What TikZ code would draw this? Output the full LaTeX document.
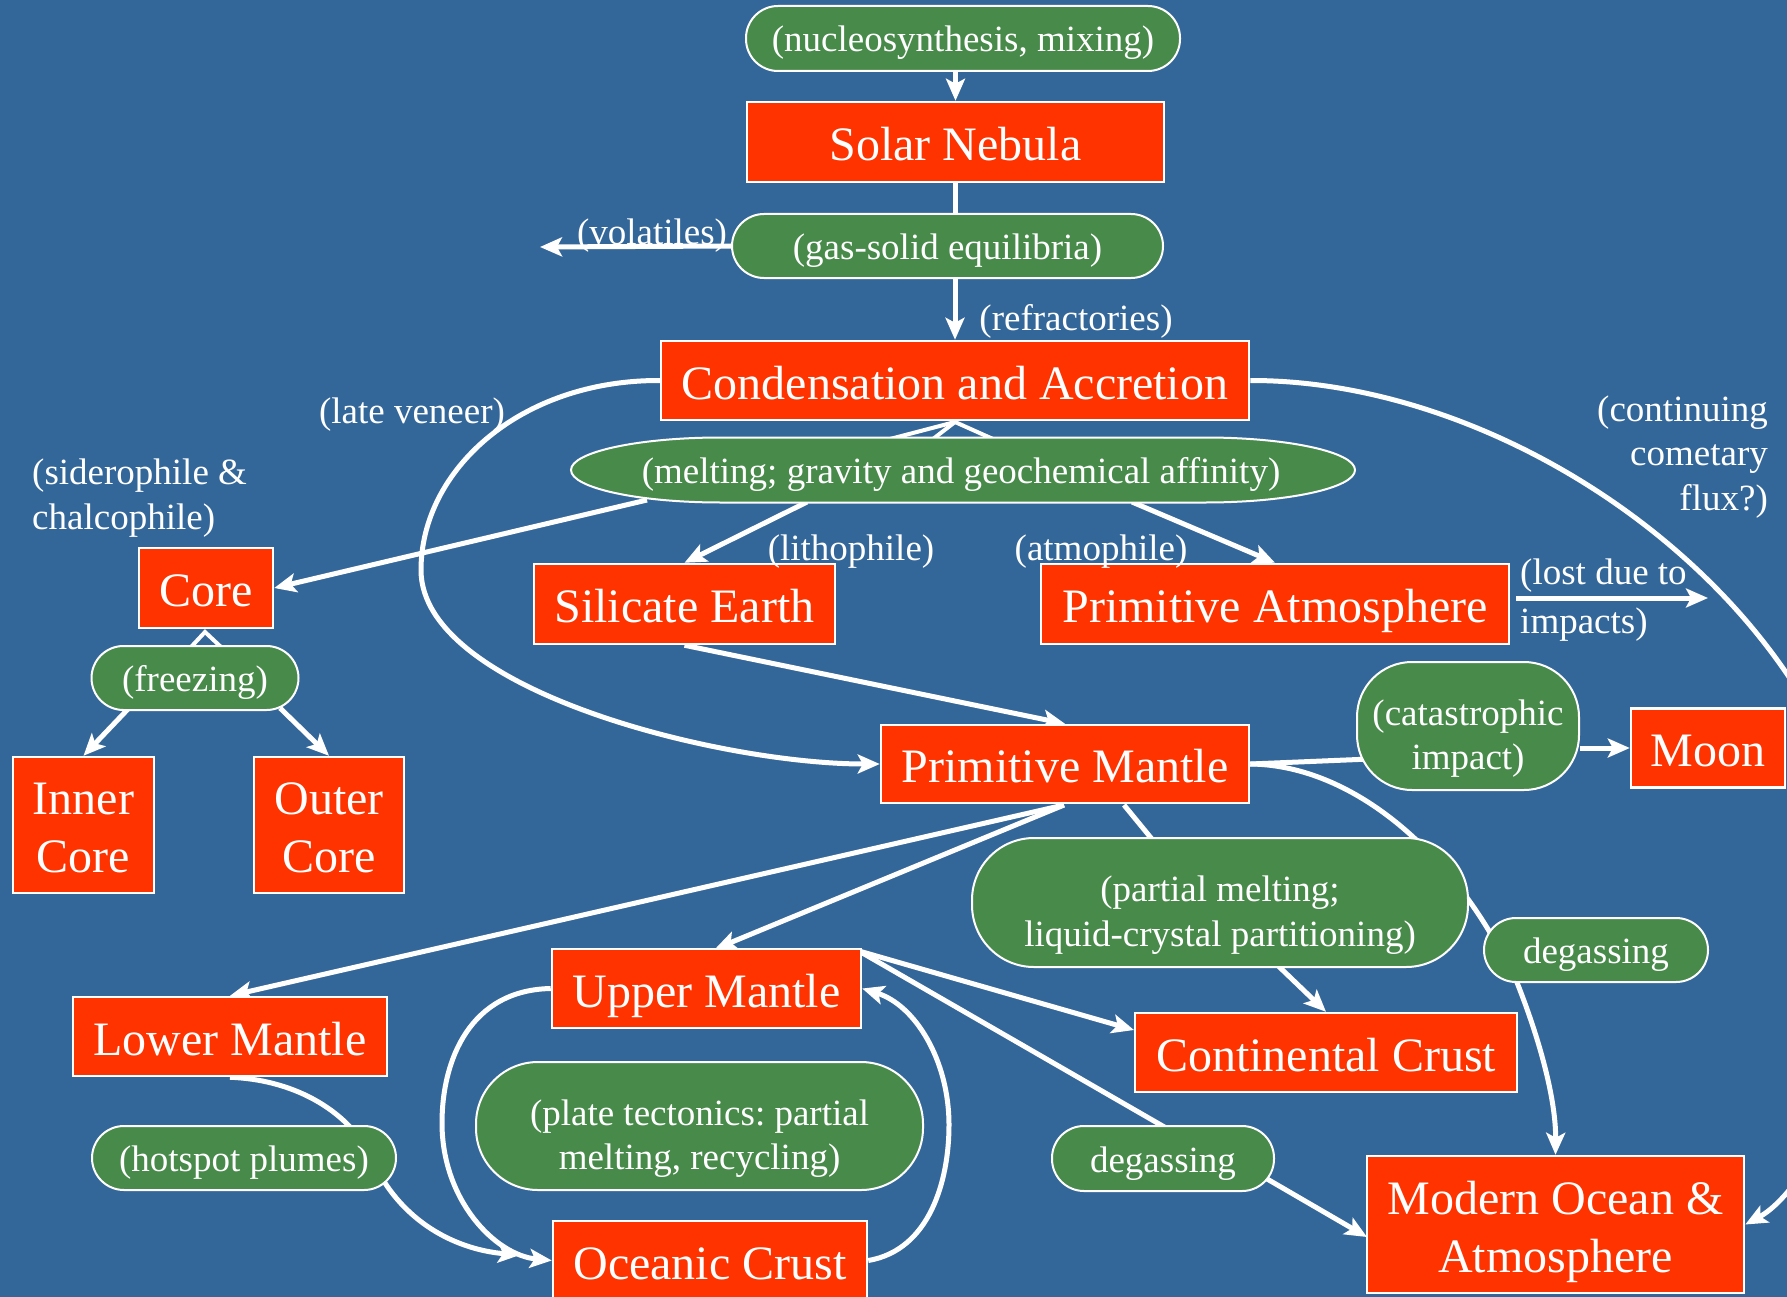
\documentclass[tikz,border=0pt]{standalone}
\usepackage{fontspec}
\setmainfont{Liberation Serif}
\frenchspacing
\usetikzlibrary{arrows.meta,backgrounds}
\definecolor{bgblue}{RGB}{52,103,153}
\definecolor{boxred}{RGB}{255,51,0}
\definecolor{grn}{RGB}{71,138,74}
\begin{document}
\begin{tikzpicture}[x=1pt,y=-1pt,
 box/.style={draw=white,line width=2.5pt,fill=boxred,text=white,inner sep=0pt,align=center,font=\fontsize{48}{58}\selectfont,text height=37.7pt,text depth=0pt},
 boxtwo/.style={box,text height=95.7pt},
 proc/.style={draw=white,line width=2pt,fill=grn,text=white,inner sep=0pt,align=center,font=\fontsize{37}{44.5}\selectfont,text height=27pt,text depth=0pt},
 proctwo/.style={proc,text height=87pt},
 gshape/.style={draw=white,line width=2pt,fill=grn},
 lbl/.style={text=white,inner sep=0pt,font=\fontsize{37}{44.5}\selectfont,text height=27pt,text depth=0pt},
 arr/.style={draw=white,line width=5pt,-{Stealth[length=22pt,width=19pt,inset=5pt]}},
 ln/.style={draw=white,line width=5pt},
 caret/.style={draw=white,line width=4pt},
]
\useasboundingbox (0,0) rectangle (1787,1297);

% melting outline (elongated ends)
\draw[gshape] (721,437.5) -- (1205,437.5) arc[start angle=-90,end angle=90,x radius=150,y radius=32.5]
  -- (721,502.5) arc[start angle=90,end angle=270,x radius=150,y radius=32.5] -- cycle;

% nodes
\node[proc,rounded corners=32pt,minimum width=434pt,minimum height=65pt] (nucleo) at (963,38.5) {(nucleosynthesis, mixing)};
\node[box,minimum width=417pt,minimum height=80pt] (solar) at (955.5,142) {Solar Nebula};
\node[proc,rounded corners=32pt,minimum width=431pt,minimum height=64pt] (gas) at (947.5,246) {(gas-solid equilibria)};
\node[box,minimum width=588pt,minimum height=79pt] (cond) at (955,380.5) {Condensation and Accretion};
\node[lbl,minimum width=784pt,minimum height=65pt] (melt) at (961,470) {(melting; gravity and geochemical affinity)};
\node[box,minimum width=134pt,minimum height=80pt] (core) at (206,588) {Core};
\node[box,minimum width=301pt,minimum height=80pt] (sil) at (684.5,604) {Silicate Earth};
\node[box,minimum width=468pt,minimum height=80pt] (patm) at (1275,604) {Primitive Atmosphere};
\node[proc,rounded corners=32pt,minimum width=207pt,minimum height=64pt] (freez) at (195,678) {(freezing)};
\node[boxtwo,minimum width=141pt,minimum height=136pt] (inner) at (83.5,825) {Inner\\Core};
\node[boxtwo,minimum width=150pt,minimum height=136pt] (outer) at (329,825) {Outer\\Core};
\node[box,minimum width=368pt,minimum height=78pt] (pm) at (1065,764) {Primitive Mantle};
\node[proctwo,rounded corners=55pt,minimum width=222pt,minimum height=128pt] (cat) at (1468,726) {(catastrophic\\impact)};
\node[box,minimum width=154pt,minimum height=79pt] (moon) at (1708,748) {Moon};
\node[proctwo,rounded corners=62pt,minimum width=496pt,minimum height=129pt] (pmelt) at (1220,902.5) {(partial melting;\\liquid-crystal partitioning)};
\node[proc,rounded corners=32pt,minimum width=224pt,minimum height=64pt] (deg1) at (1596,950) {degassing};
\node[box,minimum width=382pt,minimum height=79pt] (cont) at (1326,1052.5) {Continental Crust};
\node[box,minimum width=309pt,minimum height=79pt] (upper) at (706.5,988.5) {Upper Mantle};
\node[box,minimum width=314pt,minimum height=79pt] (lower) at (230,1036.5) {Lower Mantle};
\node[proctwo,rounded corners=62pt,minimum width=447pt,minimum height=128pt] (plate) at (699.5,1126) {(plate tectonics: partial\\melting, recycling)};
\node[proc,rounded corners=32pt,minimum width=304pt,minimum height=64pt] (hot) at (244,1158) {(hotspot plumes)};
\node[proc,rounded corners=32pt,minimum width=222pt,minimum height=65pt] (deg2) at (1163,1158.5) {degassing};
\node[box,minimum width=314pt,minimum height=79pt] (ocean) at (710,1260.5) {Oceanic Crust};
\node[boxtwo,minimum width=377pt,minimum height=137pt] (modern) at (1555.5,1224.5) {Modern Ocean \&\\Atmosphere};

% labels
\node[lbl] (volat) at (652,231) {(volatiles)};
\node[lbl] (refr) at (1076,317) {(refractories)};
\node[lbl] (late) at (412,410) {(late veneer)};
\node[lbl,anchor=west,align=left,text height=64.4pt] (sider) at (32,497) {(siderophile \&\\chalcophile)};
\node[lbl] (litho) at (851,547) {(lithophile)};
\node[lbl] (atmo) at (1101,547) {(atmophile)};
\node[lbl,anchor=east,align=right,text height=114.7pt] (comet) at (1768,453) {(continuing\\cometary\\flux?)};
\node[lbl,anchor=west,align=left,text height=71.8pt] (lost) at (1520,598) {(lost due to\\[5pt]impacts)};

% free coordinates
\coordinate (volend) at (540,247);
\coordinate (mcore) at (647,500);
\coordinate (msil) at (807,502);
\coordinate (matm) at (1132,502);
\coordinate (cpk) at (955,422);
\coordinate (cl1) at (890,439);
\coordinate (cl2) at (933,439);
\coordinate (cl3) at (993,439);
\coordinate (kpk) at (205,632);
\coordinate (kl1) at (191,647);
\coordinate (kl2) at (221,647);
\coordinate (lostS) at (1516,598);
\coordinate (lostE) at (1708,598);
\coordinate (fzi) at (129,708);
\coordinate (fzo) at (280,708);
\coordinate (pmS) at (1064,805);
\coordinate (pmD) at (1124,805);
\coordinate (pmeltIn) at (1165,855);
\coordinate (pmeltOut) at (1270,958);
\coordinate (umNE) at (859,951);
\coordinate (contL) at (1134,1030);
\coordinate (deg2in) at (1180,1136);
\coordinate (deg2out) at (1262,1176);
\coordinate (modL) at (1367,1237);
\coordinate (deg1in) at (1500,950);
\coordinate (deg1out) at (1516,980);
\coordinate (hotEnd) at (520,1255);
\coordinate (catL) at (1370,759);
\coordinate (upT) at (715,949);

\begin{pgfonlayer}{background}
\fill[bgblue] (0,0) rectangle (1787,1297);
\draw[arr] (solar.north |- nucleo.south) -- (solar.north);
\draw[ln] (solar.south) -- (solar.south |- gas.north);
\draw[arr] (cond.north |- gas.south) -- (cond.north);
\draw[arr] (gas.west) -- (volend);
\draw[caret] (cl1) -- (cpk) -- (cl3);
\draw[caret] (cl2) -- (cpk);
\draw[arr] (mcore) -- (core.east);
\draw[arr] (msil) -- (sil.north);
\draw[arr] (matm) -- (patm.north);
\draw[arr] (lostS) -- (lostE);
\draw[caret] (kl1) -- (kpk) -- (kl2);
\draw[arr] (fzi) -- (inner.north);
\draw[arr] (fzo) -- (outer.north);
\draw[arr] (sil.south) -- (pm.north);
\draw[arr] (cond.west) .. controls (520,380) and (421,470) .. (421,570)
  .. controls (421,690) and (720,764) .. (pm.west);
\draw[arr] (cond.east) .. controls (1530,380) and (1850,620) .. (1870,900)
  .. controls (1875,1080) and (1800,1195) .. (modern.east);
\draw[ln] (pm.east) -- (catL);
\draw[arr] (cat.east |- moon.west) -- (moon.west);
\draw[ln] (pm.east) .. controls (1345,765) and (1440,840) .. (deg1in);
\draw[arr] (deg1out) .. controls (1540,1040) and (1556,1100) .. (modern.north);
\draw[ln] (pmD) -- (pmeltIn);
\draw[arr] (pmeltOut) -- (cont.north);
\draw[arr] (pmS) -- (lower.north);
\draw[arr] (pmS) -- (upT);
\draw[arr] (umNE) -- (contL);
\draw[ln] (umNE) -- (deg2in);
\draw[arr] (deg2out) -- (modL);
\draw[arr] (upper.west) .. controls (470,990) and (442,1060) .. (442,1123)
  .. controls (442,1200) and (495,1255) .. (ocean.west);
\draw[arr] (ocean.east) .. controls (930,1250) and (949,1180) .. (949,1125)
  .. controls (949,1060) and (915,1005) .. (upper.east);
\draw[arr] (lower.south) .. controls (300,1080) and (350,1115) .. (370,1155)
  .. controls (400,1225) and (460,1250) .. (hotEnd);
\end{pgfonlayer}
\end{tikzpicture}
\end{document}
